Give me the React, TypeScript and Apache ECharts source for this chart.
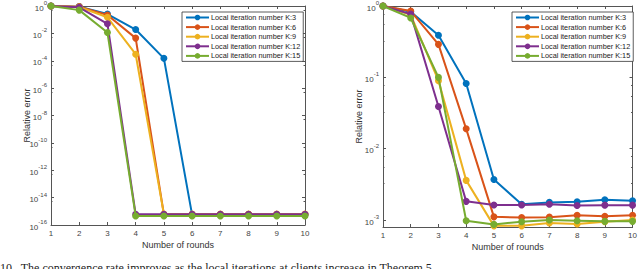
import React, { useEffect, useRef } from "react";
import * as echarts from "echarts";

const rounds = [1, 2, 3, 4, 5, 6, 7, 8, 9, 10];
const seriesNames = [
  "Local iteration number K:3",
  "Local iteration number K:6",
  "Local iteration number K:9",
  "Local iteration number K:12",
  "Local iteration number K:15",
];
const colors = ["#0072BD", "#D95319", "#EDB120", "#7E2F8E", "#77AC30"];

// Left panel
const leftK3 = [1, 0.9, 0.26, 0.019, 1.5e-4, 5.5e-16, 5.5e-16, 5.5e-16, 5.5e-16, 5.5e-16];
const leftK6 = [1, 0.9, 0.22, 4.5e-3, 6e-16, 6e-16, 6e-16, 6e-16, 6e-16, 6e-16];
const leftK9 = [1, 0.85, 0.15, 3e-4, 6.2e-16, 6.2e-16, 6.2e-16, 6.2e-16, 6.2e-16, 6.2e-16];
const leftK12 = [1, 0.8, 0.05, 6e-16, 6e-16, 6e-16, 6e-16, 6e-16, 6e-16, 6e-16];
const leftK15 = [1, 0.5, 0.0115, 4.6e-16, 4.6e-16, 4.6e-16, 4.6e-16, 4.6e-16, 4.6e-16, 4.6e-16];

// Right panel
const rightK3 = [1, 0.83, 0.39, 0.082, 3.7e-3, 1.67e-3, 1.77e-3, 1.8e-3, 1.93e-3, 1.86e-3];
const rightK6 = [1, 0.85, 0.29, 0.019, 1.11e-3, 1.09e-3, 1.1e-3, 1.17e-3, 1.13e-3, 1.17e-3];
const rightK9 = [1, 0.75, 0.09, 3.6e-3, 8.3e-4, 8.3e-4, 9.1e-4, 8.8e-4, 9.5e-4, 1.0e-3];
const rightK12 = [1, 0.77, 0.039, 1.83e-3, 1.63e-3, 1.63e-3, 1.67e-3, 1.6e-3, 1.62e-3, 1.62e-3];
const rightK15 = [1, 0.68, 0.1, 9.8e-4, 8.7e-4, 9.5e-4, 1.0e-3, 9.8e-4, 9.6e-4, 9.6e-4];

const leftData = [leftK3, leftK6, leftK9, leftK12, leftK15];
const rightData = [rightK3, rightK6, rightK9, rightK12, rightK15];

const caption =
  "10.  The convergence rate improves as the local iterations at clients increase in Theorem 5.";

const axisColor = "#555";
const labelColor = "#444";

function logLabel(v: number) {
  const l = Math.log10(v);
  const e = Math.round(l);
  if (Math.abs(l - e) > 1e-6) return "";
  return `{b|10}{s|${e}}`;
}

const richLabel = {
  b: { fontSize: 8, color: labelColor, verticalAlign: "bottom", lineHeight: 12, fontFamily: "Liberation Sans" },
  s: { fontSize: 6, color: labelColor, verticalAlign: "top", lineHeight: 12, fontFamily: "Liberation Sans" },
};

function buildSeries(data: number[][], xi: number, yi: number) {
  return data.map((d, i) => ({
    name: seriesNames[i],
    type: "line",
    xAxisIndex: xi,
    yAxisIndex: yi,
    data: d.map((v, j) => [rounds[j], v]),
    symbol: "circle",
    symbolSize: 7,
    lineStyle: { width: 2, color: colors[i] },
    itemStyle: { color: colors[i] },
    z: 2 + i,
  }));
}

export default function App() {
  const ref = useRef<HTMLDivElement>(null);
  useEffect(() => {
    document.body.style.margin = "0";
    const chart = echarts.init(ref.current!, undefined, { renderer: "svg" });
    const grids = [
      { left: 51, right: 335, top: 5, bottom: 44 },
      { left: 383, right: 5, top: 4, bottom: 42 },
    ];
    const xAxisBase = (gi: number, pos: string, labels: boolean) => ({
      type: "value",
      gridIndex: gi,
      position: pos,
      min: 1,
      max: 10,
      interval: 1,
      splitLine: { show: false },
      axisLine: { show: true, lineStyle: { color: axisColor, width: 1 } },
      axisTick: { show: true, inside: true, length: 3, lineStyle: { color: axisColor } },
      axisLabel: {
        show: labels,
        fontSize: 8,
        color: labelColor,
        fontFamily: "Liberation Sans",
        margin: 4,
      },
      name: labels ? "Number of rounds" : "",
      nameLocation: "middle",
      nameGap: 15,
      nameMoveOverlap: false,
      nameTextStyle: { fontSize: 9, color: "#333", fontFamily: "Liberation Sans" },
    });
    const yAxisBase = (
      gi: number,
      pos: string,
      labels: boolean,
      min: number,
      interval: number | undefined,
      gap: number
    ) => ({
      type: "log",
      logBase: 10,
      gridIndex: gi,
      position: pos,
      min,
      max: 1,
      ...(interval ? { interval } : { splitNumber: 3 }),
      splitLine: { show: false },
      axisLine: { show: true, lineStyle: { color: axisColor, width: 1 } },
      axisTick: { show: true, inside: true, length: 3, lineStyle: { color: axisColor } },
      minorTick: { show: true, splitNumber: interval ? 2 : 4, length: 1.5, lineStyle: { color: axisColor } },
      axisLabel: {
        show: labels,
        formatter: logLabel,
        rich: richLabel,
        margin: 4,
        showMinLabel: true,
        showMaxLabel: true,
      },
      name: labels ? "Relative error" : "",
      nameLocation: "middle",
      nameGap: gap,
      nameMoveOverlap: false,
      nameRotate: 90,
      nameTextStyle: { fontSize: 9, color: "#333", fontFamily: "Liberation Sans" },
    });
    const legendBase = (left: number, top: number) => ({
      left,
      top,
      orient: "vertical",
      data: seriesNames,
      itemWidth: 23,
      itemHeight: 7,
      itemGap: 2.6,
      padding: [2, 3, 2, 3],
      borderColor: "#333",
      borderWidth: 0.8,
      backgroundColor: "#fff",
      selectedMode: false,
      textStyle: { fontSize: 7.3, color: "#222", fontFamily: "Liberation Sans", padding: [0, 0, 0, -3] },
    });
    chart.setOption({
      animation: false,
      grid: grids,
      xAxis: [
        xAxisBase(0, "bottom", true),
        xAxisBase(0, "top", false),
        xAxisBase(1, "bottom", true),
        xAxisBase(1, "top", false),
      ],
      yAxis: [
        yAxisBase(0, "left", true, 1e-16, 2, 20),
        yAxisBase(0, "right", false, 1e-16, 2, 20),
        yAxisBase(1, "left", true, 8e-4, undefined, 20),
        yAxisBase(1, "right", false, 8e-4, undefined, 20),
      ],
      legend: [legendBase(182, 12), legendBase(512, 12)],
      series: [...buildSeries(leftData, 0, 0), ...buildSeries(rightData, 2, 2)],
      graphic: [
        {
          type: "text",
          left: 0,
          top: 262,
          style: {
            text: caption,
            fontSize: 12,
            fontFamily: "Liberation Serif",
            fill: "#222",
          },
        },
      ],
    });
    return () => chart.dispose();
  }, []);
  return <div ref={ref} style={{ width: 640, height: 269 }} />;
}
